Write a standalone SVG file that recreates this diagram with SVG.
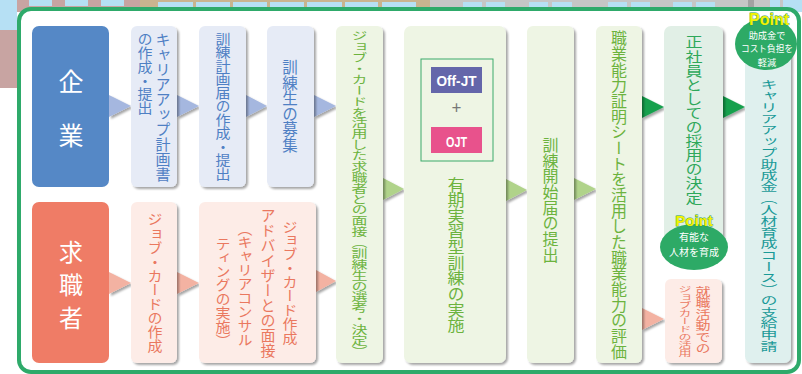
<svg xmlns="http://www.w3.org/2000/svg" width="802" height="374" viewBox="0 0 802 374">
<defs>
<filter id="sh" x="-20%" y="-20%" width="150%" height="150%">
<feDropShadow dx="2" dy="2" stdDeviation="1.3" flood-color="#000" flood-opacity="0.35"/>
</filter>
<style>
.v{writing-mode:vertical-rl;font-family:"Noto Sans CJK JP","Noto Sans CJK SC",sans-serif;}
.h{font-family:"Noto Sans CJK JP","Noto Sans CJK SC",sans-serif;}
.blue{fill:#e6ebf6;filter:url(#sh);}
.tb{fill:#4f80c4;}
.sal{fill:#fdece7;filter:url(#sh);}
.ts{fill:#ea785f;}
.grn{fill:#eef5e4;filter:url(#sh);}
.tg{fill:#6cb33e;}
.bg{fill:#b6e0f4;}
.pt{font-family:"Liberation Sans",Arial,sans-serif;font-weight:bold;fill:#f2f200;stroke:#2a9a55;stroke-width:0.8;paint-order:stroke;text-anchor:middle;}
.pw{fill:#fff;font-size:10px;text-anchor:middle;}
.pw2{fill:#fff;font-size:9.2px;text-anchor:middle;}
</style>
</defs>

<!-- page background outside frame -->
<rect width="802" height="374" fill="#ffffff"/>
<rect x="0" y="0" width="140" height="12" fill="#c8a4a2"/>
<rect x="140" y="0" width="290" height="12" fill="#c9b48f"/>
<rect x="430" y="0" width="318" height="12" fill="#c6c6c6"/>
<rect x="748" y="0" width="6" height="12" fill="#a2a2a2"/>
<rect x="754" y="0" width="16" height="12" fill="#c6c6c6"/>
<rect x="770" y="0" width="10" height="12" fill="#b6e0f4"/>
<rect x="780" y="0" width="3" height="12" fill="#c6c6c6"/>
<rect x="783" y="0" width="19" height="12" fill="#b6e0f4"/>
<rect x="0" y="0" width="17" height="30" fill="#b6e0f4"/>
<rect x="0" y="30" width="17" height="58" fill="#c8a4a2"/>
<g class="bg">
<rect x="29" y="0" width="23" height="6"/><rect x="65" y="0" width="23" height="6"/><rect x="101" y="0" width="23" height="6"/>
<rect x="158" y="2" width="35" height="6"/><rect x="196" y="2" width="34" height="6"/><rect x="233" y="2" width="34" height="6"/>
<rect x="270" y="2" width="34" height="6"/><rect x="307" y="2" width="35" height="6"/><rect x="345" y="2" width="33" height="6"/>
<rect x="382" y="2" width="34" height="6"/>
<rect x="463" y="2" width="19" height="6"/><rect x="486" y="2" width="19" height="6"/><rect x="529" y="2" width="19" height="6"/>
<rect x="552" y="2" width="20" height="6"/><rect x="608" y="2" width="19" height="6"/><rect x="631" y="2" width="19" height="6"/>
<rect x="673" y="2" width="19" height="6"/><rect x="696" y="2" width="19" height="6"/>
</g>

<!-- main frame -->
<rect id="frame" x="19" y="9" width="780" height="363" rx="12" fill="#ffffff" stroke="#2eaa6a" stroke-width="4"/>

<!-- connectors -->
<g id="connectors" filter="url(#sh)">
<g fill="#a5b7df">
<polygon points="109,95 131,106 109,117"/>
<polygon points="177,95 199,106 177,117"/>
<polygon points="246,95 267,106 246,117"/>
<polygon points="314,95 336,106 314,117"/>
</g>
<g fill="#f3b2a2">
<polygon points="109,272 131,283 109,294"/>
<polygon points="177,272 199,283 177,294"/>
<polygon points="316,270 336,281 316,292"/>
<polygon points="642,308 664,319 642,330"/>
</g>
<g fill="#b0d38a">
<polygon points="383,178 404,189 383,200"/>
<polygon points="506,179 527,190 506,201"/>
<polygon points="574,178 596,189 574,200"/>
</g>
<g fill="#17a04e">
<polygon points="642,96 664,107 642,118"/>
<polygon points="723,96 745,107 723,118"/>
</g>
</g>

<!-- row 1 -->
<g id="kigyo">
<rect x="32" y="26" width="77" height="161" rx="7" fill="#5588c6"/>
<text class="h" x="71" y="91" font-size="25" fill="#fff" text-anchor="middle">企</text>
<text class="h" x="71" y="145" font-size="25" fill="#fff" text-anchor="middle">業</text>
</g>
<g id="careerup-plan">
<rect class="blue" x="131" y="26" width="46" height="161" rx="6"/>
<text class="v tb" font-size="15" transform="translate(163,32)">キャリアアップ計画書</text>
<text class="v tb" font-size="15" transform="translate(145,32) scale(1,0.92)">の作成・提出</text>
</g>
<g id="training-plan">
<rect class="blue" x="199" y="26" width="47" height="161" rx="6"/>
<text class="v tb" font-size="15" text-anchor="middle" transform="translate(223,106) scale(1,0.9)">訓練計画届の作成・提出</text>
</g>
<g id="recruit">
<rect class="blue" x="267" y="26" width="47" height="161" rx="6"/>
<text class="v tb" font-size="15.5" text-anchor="middle" transform="translate(290,106)">訓練生の募集</text>
</g>

<!-- row 2 -->
<g id="kyushokusha">
<rect x="32" y="202" width="77" height="161" rx="7" fill="#ef7c66"/>
<text class="h" x="71" y="261" font-size="24" fill="#fff" text-anchor="middle">求</text>
<text class="h" x="71" y="294" font-size="24" fill="#fff" text-anchor="middle">職</text>
<text class="h" x="71" y="327" font-size="24" fill="#fff" text-anchor="middle">者</text>
</g>
<g id="jobcard-make">
<rect class="sal" x="131" y="202" width="46" height="161" rx="6"/>
<text class="v ts" font-size="15" text-anchor="middle" transform="translate(155,282.5) scale(1,0.94)">ジョブ・カードの作成</text>
</g>
<g id="advisor">
<rect class="sal" x="199" y="202" width="117" height="161" rx="6"/>
<text class="v ts" font-size="15" text-anchor="middle" transform="translate(290,282) scale(1,0.93)">ジョブ・カード作成</text>
<text class="v ts" font-size="15" text-anchor="middle" transform="translate(268,283)">アドバイザーとの面接</text>
<text class="v ts" font-size="15" text-anchor="middle" transform="translate(245,284) scale(1,0.93)">（キャリアコンサル</text>
<text class="v ts" font-size="15" text-anchor="middle" transform="translate(223,292) scale(1,0.92)">ティングの実施）</text>
</g>

<!-- shared steps -->
<g id="interview">
<rect class="grn" x="336" y="26" width="47" height="337" rx="6"/>
<text class="v tg" font-size="16" text-anchor="middle" transform="translate(359.5,194) scale(1,0.68)">ジョブ・カードを活用した求職者との面接（訓練生の選考・決定）</text>
</g>
<g id="training">
<rect class="grn" x="404" y="26" width="102" height="337" rx="7"/>
<rect x="421" y="59" width="72" height="102" fill="none" stroke="#3aaa6a" stroke-width="1"/>
<rect x="431" y="67" width="51" height="26" fill="#6466aa"/>
<text x="456.5" y="86" font-family="'Liberation Sans',Arial,sans-serif" font-weight="bold" font-size="15" fill="#fff" text-anchor="middle" textLength="40" lengthAdjust="spacingAndGlyphs">Off-JT</text>
<text class="h" x="456.5" y="114" font-size="17" fill="#777" text-anchor="middle">+</text>
<rect x="431" y="127" width="51" height="26" fill="#e8528c"/>
<text x="456.5" y="147" font-family="'Liberation Sans',Arial,sans-serif" font-weight="bold" font-size="15" fill="#fff" text-anchor="middle" textLength="21" lengthAdjust="spacingAndGlyphs">OJT</text>
<text class="v tg" font-size="17" text-anchor="middle" transform="translate(456,255) scale(1,0.92)">有期実習型訓練の実施</text>
</g>
<g id="start-notice">
<rect class="grn" x="527" y="26" width="47" height="337" rx="6"/>
<text class="v tg" font-size="16" text-anchor="middle" transform="translate(550.5,200) scale(1,0.98)">訓練開始届の提出</text>
</g>
<g id="evaluation">
<rect class="grn" x="596" y="26" width="46" height="337" rx="6"/>
<text class="v tg" font-size="16" text-anchor="middle" transform="translate(619,195) scale(1,0.98)">職業能力証明シートを活用した職業能力の評価</text>
</g>

<!-- outcomes -->
<g id="hire">
<rect x="664" y="26" width="59" height="220" rx="7" fill="#e1efe6" filter="url(#sh)"/>
<text class="v" font-size="17" fill="#2ea85a" transform="translate(694,35) scale(1,0.83)">正社員としての採用の決定</text>
</g>
<g id="jobcard-use">
<rect class="sal" x="665" y="279" width="57" height="84" rx="6"/>
<text class="v ts" font-size="15" text-anchor="middle" transform="translate(703,320) scale(1,0.77)">就職活動での</text>
<text class="v ts" font-size="13" text-anchor="middle" transform="translate(685,321) scale(1,0.62)">ジョブカードの活用</text>
</g>
<g id="point-skill">
<ellipse cx="694" cy="247" rx="34" ry="23" fill="#2daa66"/>
<text class="pt" x="694" y="226" font-size="15">Point</text>
<text class="h pw" x="694" y="241">有能な</text>
<text class="h pw" x="694" y="256">人材を育成</text>
</g>
<g id="subsidy">
<rect x="745" y="26" width="46" height="337" rx="7" fill="#dff0ee" filter="url(#sh)"/>
<text class="v" font-size="17" fill="#1a9a98" text-anchor="middle" transform="translate(769,215.5) scale(1,0.67)">キャリアアップ助成金（人材育成コース）の支給申請</text>
</g>
<g id="point-cost">
<ellipse cx="766" cy="44" rx="31" ry="26" fill="#2daa66"/>
<text class="pt" x="769" y="24.5" font-size="16">Point</text>
<text class="h pw2" x="767" y="38.5">助成金で</text>
<text class="h pw2" x="767" y="52" textLength="52" lengthAdjust="spacingAndGlyphs">コスト負担を</text>
<text class="h pw2" x="767" y="65.5">軽減</text>
</g>
</svg>
